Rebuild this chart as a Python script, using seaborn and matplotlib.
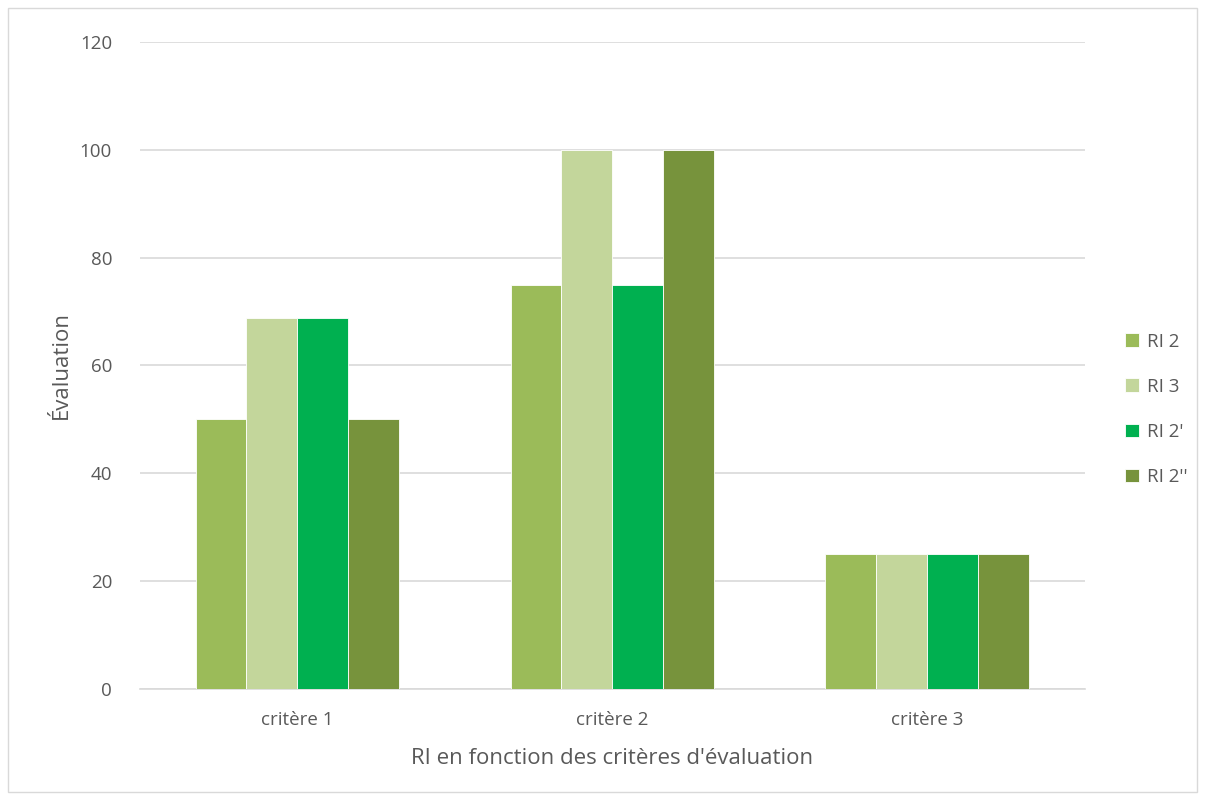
import pandas as pd
import matplotlib.pyplot as plt
import seaborn as sns
from matplotlib.patches import Rectangle

# data
categories = ["critère 1", "critère 2", "critère 3"]
series     = ["RI 2", "RI 3", "RI 2'", "RI 2''"]
ri2        = [50, 75, 25]
ri3        = [68.75, 100, 25]
ri2p       = [68.75, 75, 25]
ri2pp      = [50, 100, 25]
colors     = ["#9BBB59", "#C3D69B", "#00B050", "#77933C"]

rows = []
for name, vals in zip(series, [ri2, ri3, ri2p, ri2pp]):
    for cat, v in zip(categories, vals):
        rows.append({"critere": cat, "serie": name, "valeur": v})
df = pd.DataFrame(rows)

sns.set_style("white")
plt.rcParams["font.family"] = ["Open Sans", "DejaVu Sans"]

fig = plt.figure(figsize=(12.05, 8), dpi=100)
ax = fig.add_axes([0.116, 0.139, 0.784, 0.8085])

sns.barplot(
    data=df, x="critere", y="valeur", hue="serie",
    palette=colors, width=0.645, saturation=1, ax=ax,
    edgecolor="white", linewidth=0.6, zorder=3,
)

ax.set_ylim(0, 120)
ax.set_yticks(range(0, 121, 20))
ax.yaxis.grid(True, color="#D9D9D9", linewidth=1.2, zorder=0)
ax.set_axisbelow(True)
for s in ["left", "right", "top"]:
    ax.spines[s].set_visible(False)
ax.spines["bottom"].set_color("#D9D9D9")
ax.spines["bottom"].set_linewidth(1.2)
ax.tick_params(axis="both", length=0, labelsize=13.5, colors="#595959")
ax.tick_params(axis="x", pad=16)
ax.tick_params(axis="y", pad=20)

ax.set_xlabel("RI en fonction des critères d'évaluation", fontsize=16, color="#595959", labelpad=14)
ax.set_ylabel("Évaluation", fontsize=16, color="#595959", labelpad=6)

ax.legend(
    loc="center left", bbox_to_anchor=(1.025, 0.432), frameon=False,
    fontsize=13.5, labelcolor="#595959", handlelength=0.75, handleheight=0.75,
    labelspacing=1.45, handletextpad=0.45,
)

fig.patches.append(Rectangle((0.007, 0.01), 0.986, 0.98, transform=fig.transFigure,
                             fill=False, edgecolor="#D9D9D9", linewidth=1))

fig.savefig("out.png", dpi=100)
